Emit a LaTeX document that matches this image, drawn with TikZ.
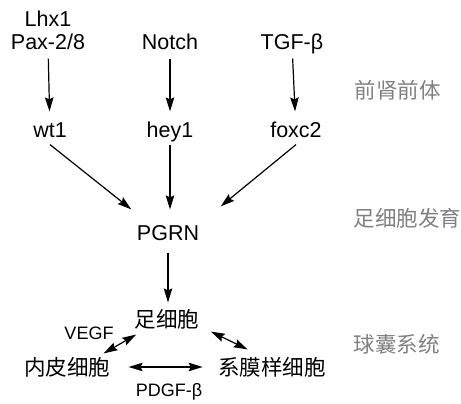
\documentclass[tikz,border=0pt]{standalone}
\usepackage{fontspec}
\setmainfont{Liberation Sans}
\newfontfamily\cjk{Noto Sans CJK SC}
\usetikzlibrary{arrows.meta}

\begin{document}
\begin{tikzpicture}[x=1pt, y=-1pt,
      gene/.style={font=\fontsize{21.5}{24}\selectfont, anchor=base,
                   text height=16pt, text depth=5pt, inner sep=2pt},
      cell/.style={font=\cjk\fontsize{21.5}{24}\selectfont, inner sep=2pt},
      stage/.style={font=\cjk\fontsize{21.5}{24}\selectfont, text=black!50,
                    anchor=west, inner sep=0pt},
      factor/.style={font=\fontsize{18}{20}\selectfont, inner sep=0pt},
      >={Stealth[length=14pt, width=8.5pt, inset=2pt]}, line width=1.2pt,
    ]
    \useasboundingbox (0,0) rectangle (461,404);

    % upstream signals
    \node[gene] (lhx)   at (48,27)  {Lhx1};
    \node[gene] (pax)   at (48,50)  {Pax-2/8};
    \node[gene] (notch) at (170,50) {Notch};
    \node[gene] (tgf)   at (292,50) {TGF-β};

    % targets
    \node[gene] (wt1)   at (50,137)  {wt1};
    \node[gene] (hey1)  at (170,137) {hey1};
    \node[gene] (foxc2) at (296,137) {foxc2};

    \node[gene] (pgrn)  at (168,240) {PGRN};

    % glomerular cells
    \node[cell] (zu)  at (167,319) {足细胞};
    \node[cell] (nei) at (67,367)  {内皮细胞};
    \node[cell] (xi)  at (272,367) {系膜样细胞};

    \node[factor] (vegf) at (89,333)  {VEGF};
    \node[factor] (pdgf) at (169,392) {PDGF-β};

    % stages on the right
    \node[stage] (s1) at (354,90)  {前肾前体};
    \node[stage] (s2) at (353,218) {足细胞发育};
    \node[stage] (s3) at (353,344) {球囊系统};

    \draw[->, shorten <=1pt, shorten >=7pt] (pax) -- (wt1);
    \draw[->, shorten <=1pt, shorten >=7pt] (notch) -- (hey1);
    \draw[->, shorten <=1pt, shorten >=7pt] (tgf) -- (foxc2);

    \draw[->] (wt1.south) -- ([xshift=-3pt, yshift=12pt]pgrn.north west);
    \draw[->, shorten >=12pt] (hey1) -- (hey1 |- pgrn.north);
    \draw[->] (foxc2.south) -- ([xshift=19pt, yshift=15pt]pgrn.north east);

    \draw[->, shorten <=5pt, shorten >=4pt] (pgrn.south) -- (pgrn.south |- zu.north);

    % exchanges between the cells
    \draw[<->] ([xshift=4pt, yshift=-3pt]zu.south west)
      -- ([xshift=-9pt, yshift=1pt]nei.north east);
    \draw[<->] ([xshift=9pt]zu.south east)
      -- ([xshift=32pt, yshift=5pt]xi.north west);
    \draw[<->, shorten <=16pt, shorten >=13pt] (nei) -- (xi);
\end{tikzpicture}
\end{document}
